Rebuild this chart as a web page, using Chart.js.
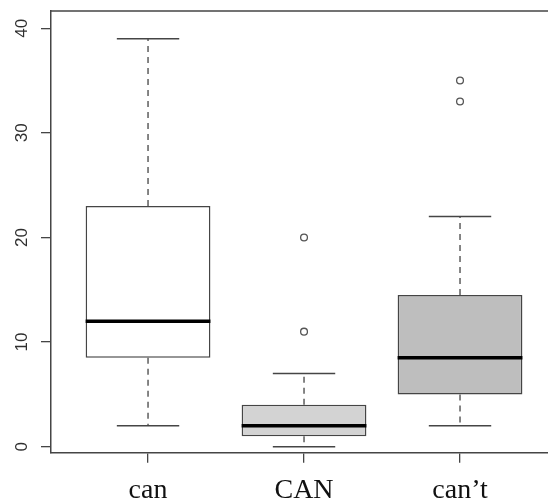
<!DOCTYPE html>
<html>
<head>
<meta charset="utf-8">
<script src="https://cdn.jsdelivr.net/npm/chart.js@4/dist/chart.umd.min.js"></script>
<style>
html,body{margin:0;padding:0;background:#fff;}
#wrap{width:548px;height:501px;position:relative;}
</style>
</head>
<body>
<div id="wrap"><canvas id="c" width="548" height="501"></canvas></div>
<script>
// ---- data ----
const categories = ['can', 'CAN', 'can\u2019t'];
const whiskerLow  = [2, 0, 2];
const q1          = [8.5, 1, 5];
const medians     = [12, 2, 8.5];
const q3          = [23, 4, 14.5];
const whiskerHigh = [39, 7, 22];
const outliers    = [[], [11, 20], [33, 35]];
const yTickValues = [0, 10, 20, 30, 40];
const boxFills    = ['#ffffff', '#d3d3d3', '#bebebe'];

const boxData = categories.map((c, i) => ({x: i, y: [q1[i], q3[i]]}));
const outlierData = [];
outliers.forEach((arr, i) => arr.forEach(v => outlierData.push({x: i, y: v})));

const lineCol = '#454545';

const boxPlugin = {
  id: 'boxExtras',
  afterDatasetsDraw(chart) {
    const ctx = chart.ctx;
    const xs = chart.scales.x, ys = chart.scales.y;
    const meta = chart.getDatasetMeta(0);
    ctx.save();
    categories.forEach((c, i) => {
      const bar = meta.data[i];
      const w = bar.width;
      const cx = xs.getPixelForValue(i);
      const yLo = ys.getPixelForValue(whiskerLow[i]);
      const yQ1 = ys.getPixelForValue(q1[i]);
      const yQ3 = ys.getPixelForValue(q3[i]);
      const yHi = ys.getPixelForValue(whiskerHigh[i]);
      const yMed = ys.getPixelForValue(medians[i]);
      // dashed whiskers
      ctx.strokeStyle = lineCol;
      ctx.lineWidth = 1.3;
      ctx.setLineDash([6, 5]);
      ctx.beginPath();
      ctx.moveTo(cx, yQ3); ctx.lineTo(cx, yHi);
      ctx.moveTo(cx, yQ1); ctx.lineTo(cx, yLo);
      ctx.stroke();
      // staples
      ctx.setLineDash([]);
      ctx.lineWidth = 1.5;
      ctx.beginPath();
      ctx.moveTo(cx - w / 4, yHi); ctx.lineTo(cx + w / 4, yHi);
      ctx.moveTo(cx - w / 4, yLo); ctx.lineTo(cx + w / 4, yLo);
      ctx.stroke();
      // median
      ctx.strokeStyle = '#000';
      ctx.lineWidth = 3.5;
      ctx.beginPath();
      ctx.moveTo(cx - w / 2, yMed); ctx.lineTo(cx + w / 2, yMed);
      ctx.stroke();
    });
    // top frame line
    const a = chart.chartArea;
    ctx.strokeStyle = lineCol;
    ctx.lineWidth = 1.5;
    ctx.beginPath();
    ctx.moveTo(a.left, a.top); ctx.lineTo(a.right, a.top);
    ctx.stroke();
    // rotated y tick labels
    ctx.fillStyle = '#2e2e2e';
    ctx.font = '17px "Liberation Sans", Arial, sans-serif';
    ctx.textAlign = 'center';
    ctx.textBaseline = 'alphabetic';
    yTickValues.forEach(v => {
      const py = ys.getPixelForValue(v);
      ctx.save();
      ctx.translate(26.8, py);
      ctx.rotate(-Math.PI / 2);
      ctx.fillText(String(v), 0, 0);
      ctx.restore();
    });
    ctx.restore();
  }
};

new Chart(document.getElementById('c'), {
  type: 'bar',
  data: {
    datasets: [
      {
        type: 'bar',
        data: boxData,
        backgroundColor: boxFills,
        borderColor: lineCol,
        borderWidth: 1.5,
        borderSkipped: false,
        categoryPercentage: 0.8,
        barPercentage: 1.0
      },
      {
        type: 'scatter',
        data: outlierData,
        pointStyle: 'circle',
        pointRadius: 3.4,
        pointBackgroundColor: 'rgba(255,255,255,0)',
        pointBorderColor: '#555',
        pointBorderWidth: 1.3
      }
    ]
  },
  options: {
    responsive: false,
    animation: false,
    events: [],
    layout: {autoPadding: false, padding: {top: 11, right: 0, left: 0, bottom: 0}},
    plugins: {legend: {display: false}, tooltip: {enabled: false}},
    scales: {
      x: {
        type: 'linear',
        min: -0.622,
        max: 2.564,
        offset: false,
        afterBuildTicks: s => { s.ticks = categories.map((c, i) => ({value: i})); },
        afterFit: s => { s.height = 48.3; s.paddingLeft = 0; s.paddingRight = 0; },
        grid: {display: true, offset: false, drawOnChartArea: false, drawTicks: true, tickLength: 10, color: lineCol, lineWidth: 1.3},
        border: {display: true, color: lineCol, width: 1.5},
        ticks: {
          autoSkip: false,
          maxRotation: 0,
          padding: 11,
          color: '#111',
          font: {family: '"Liberation Serif", "Times New Roman", serif', size: 28},
          callback: v => categories[v]
        }
      },
      y: {
        type: 'linear',
        min: -0.574,
        max: 41.65,
        afterBuildTicks: s => { s.ticks = yTickValues.map(v => ({value: v})); },
        afterFit: s => { s.width = 51; s.paddingTop = 0; s.paddingBottom = 0; },
        grid: {display: true, drawOnChartArea: false, drawTicks: true, tickLength: 10, color: lineCol, lineWidth: 1.3},
        border: {display: true, color: lineCol, width: 1.5},
        ticks: {display: false}
      }
    }
  },
  plugins: [boxPlugin]
});
</script>
</body>
</html>
